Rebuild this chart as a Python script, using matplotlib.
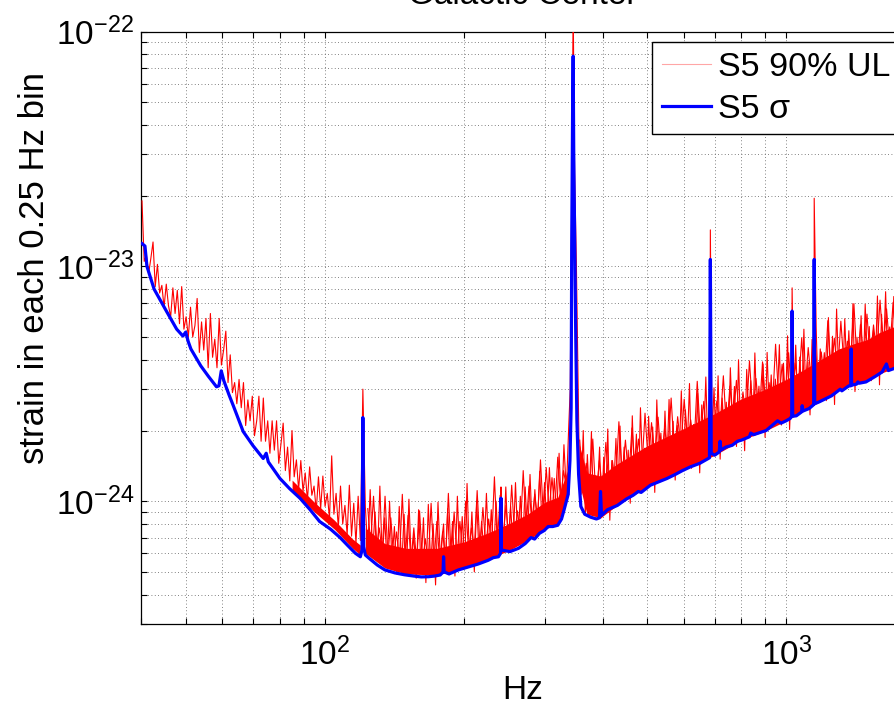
import numpy as np
import matplotlib
matplotlib.use("Agg")
import matplotlib.pyplot as plt
from matplotlib.ticker import FixedLocator, LogLocator, NullFormatter

plt.rcParams["font.family"] = ["Liberation Sans", "DejaVu Sans"]
plt.rcParams["mathtext.fontset"] = "custom"
plt.rcParams["mathtext.rm"] = "Liberation Sans"
plt.rcParams["mathtext.it"] = "Liberation Sans:italic"
plt.rcParams["mathtext.default"] = "regular"

UNIT = 1e-24  # all strain values below are in units of 1e-24

# S5 sigma (blue), frequency in Hz
sigma_freq = [40.2, 40.8, 41.2, 42.7, 44.0, 45.5, 47.8, 49.3, 50.0, 50.6,
              51.3, 53.9, 56.0, 58.3, 59.0, 59.7, 60.5, 62.0, 63.4, 66.6,
              70.0, 73.6, 74.7, 75.5, 80.0, 84.0, 88.4, 93.0, 97.5, 103,
              108, 112, 116.6, 119.5, 120.5, 121.0, 121.5, 122.5, 125, 130,
              135, 142, 149, 156, 162, 168, 173, 178, 180.5, 181.0,
              181.5, 186, 195, 205, 215, 226, 232, 238, 240.5, 241.0,
              241.5, 252, 263, 272, 280, 285, 292, 299, 305, 312,
              320, 326, 330, 334, 337, 340, 342, 343, 344.5, 345.5,
              346.5, 348, 350, 352, 355, 359, 366, 377, 388, 394,
              396, 398, 410, 431, 450, 466, 478, 485, 508, 530,
              552, 575, 596, 620, 650, 670, 682, 685, 688, 700,
              716, 719, 722, 740, 764, 784, 800, 832, 838, 850,
              905, 958, 975, 1000, 1020, 1028, 1030, 1033, 1052, 1080,
              1083, 1087, 1121, 1140, 1147, 1150, 1153, 1180, 1254, 1310,
              1320, 1367, 1380, 1383, 1386, 1420, 1430, 1440, 1489, 1560,
              1614, 1649, 1665, 1705, 1800]
sigma_val = [12.5, 12.2, 10.0, 8.0, 7.2, 6.4, 5.4, 5.05, 5.25, 4.8,
             4.45, 3.77, 3.4, 3.07, 3.1, 3.59, 3.25, 2.85, 2.55, 1.98,
             1.72, 1.52, 1.6, 1.47, 1.25, 1.13, 1.03, 0.92, 0.82, 0.76,
             0.70, 0.65, 0.60, 0.58, 0.62, 2.27, 0.64, 0.59, 0.57, 0.535,
             0.51, 0.495, 0.486, 0.48, 0.476, 0.477, 0.48, 0.485, 0.5, 0.58,
             0.5, 0.49, 0.51, 0.525, 0.54, 0.56, 0.575, 0.58, 0.6, 1.03,
             0.62, 0.61, 0.63, 0.66, 0.70, 0.69, 0.73, 0.75, 0.78, 0.78,
             0.79, 0.84, 0.915, 1.0, 1.07, 1.49, 2.5, 12.0, 45.0, 78.5,
             30.0, 14.0, 5.0, 2.2, 1.3, 0.95, 0.88, 0.855, 0.84, 0.85,
             1.1, 0.87, 0.92, 0.96, 1.02, 1.06, 1.1, 1.09, 1.17, 1.21,
             1.25, 1.30, 1.35, 1.40, 1.45, 1.5, 1.53, 10.7, 1.6, 1.57,
             1.62, 1.8, 1.65, 1.70, 1.73, 1.8, 1.82, 1.88, 1.95, 1.92,
             2.0, 2.2, 2.15, 2.2, 2.25, 2.3, 6.45, 2.3, 2.31, 2.4,
             2.55, 2.42, 2.48, 2.55, 2.58, 10.7, 2.6, 2.65, 2.81, 3.0,
             2.95, 3.1, 3.1, 4.45, 3.12, 3.15, 3.22, 3.18, 3.22, 3.4,
             3.55, 3.84, 3.6, 3.66, 3.85]

# S5 90% upper limit (red), read in bands of evenly spaced log-frequency bins
ul_band_a = (40.2, 119.5)
ul_vals_a = [19.0, 10.5, 11.2, 9.3, 10.8, 12.7, 8.2, 10.2, 7.7, 8.3,
             6.7, 8.4, 6.8, 6.1, 8.1, 6.3, 7.9, 5.7, 8.2, 5.4,
             6.1, 5.0, 6.7, 5.0, 5.6, 7.3, 4.3, 5.8, 4.4, 6.0,
             3.7, 6.3, 4.1, 4.9, 3.7, 6.0, 3.8, 4.4, 5.3, 3.2,
             4.2, 2.9, 3.2, 2.6, 3.3, 2.5, 3.2, 2.1, 2.7, 2.2,
             2.8, 1.9, 2.2, 2.8, 1.8, 2.75, 1.8, 2.2, 1.6, 2.2,
             1.65, 2.2, 1.45, 1.75, 2.15, 1.35, 1.7, 1.22, 2.0, 1.27,
             1.5, 1.12, 1.49, 1.1, 1.32, 1.01, 1.4, 1.06, 1.16, 0.91,
             1.27, 0.93, 1.28, 0.95, 1.08, 0.84, 1.56, 0.88, 1.08, 0.77,
             1.16, 0.8, 0.96, 0.72, 1.17, 0.71, 0.98, 0.66, 1.05, 0.68]
ul_band_b = (122.5, 338.0)
ul_vals_b = [0.95, 0.62, 1.12, 0.6, 0.9, 0.58, 1.16, 0.56, 0.85, 0.53,
             1.0, 0.55, 0.78, 0.49, 0.95, 0.52, 0.88, 0.5, 1.02, 0.54,
             0.72, 0.47, 0.92, 0.52, 0.85, 0.45, 0.97, 0.53, 0.8, 0.44,
             0.99, 0.55, 0.75, 0.5, 0.93, 0.53, 0.82, 0.48, 1.05, 0.55,
             0.86, 0.52, 1.19, 0.56, 0.9, 0.5, 1.0, 0.57, 0.82, 0.6,
             1.08, 0.58, 0.92, 0.6, 1.0, 0.6, 1.1, 0.63, 1.15, 0.62,
             0.95, 0.64, 1.2, 0.66, 1.05, 0.67, 1.15, 0.7, 1.3, 0.72,
             1.12, 0.76, 1.34, 0.78, 1.2, 0.8, 1.39, 0.82, 1.25, 0.85,
             1.6, 0.9, 1.74, 1.1, 2.1]
ul_band_b2 = (124.0, 334.0)
ul_vals_b2 = [0.93, 0.66, 1.05, 0.63, 0.77, 0.6, 1.05, 0.58, 0.85, 0.57,
              0.74, 0.56, 1.07, 0.56, 0.87, 0.55, 0.77, 0.55, 0.91, 0.55,
              0.69, 0.55, 0.98, 0.55, 0.82, 0.55, 0.74, 0.56, 1.08, 0.57,
              0.9, 0.58, 0.82, 0.6, 1.0, 0.61, 0.77, 0.62, 1.11, 0.63,
              0.94, 0.64, 0.84, 0.65, 1.27, 0.66, 1.06, 0.69, 0.96, 0.7,
              1.17, 0.71, 0.91, 0.73, 1.35, 0.77, 1.16, 0.81, 1.07, 0.84,
              1.5, 0.87, 1.39, 0.9, 1.26, 0.91, 1.54, 0.99, 1.35, 1.15]
ul_band_c = (356.0, 1800.0)
ul_vals_c = [1.55, 1.07, 2.0, 0.87, 1.58, 1.06, 1.98, 0.9, 1.28, 1.11,
             1.7, 0.85, 1.54, 1.01, 2.03, 0.83, 1.49, 1.16, 1.85, 1.03,
             2.09, 1.14, 1.7, 1.1, 1.65, 0.98, 2.31, 1.26, 1.93, 1.12,
             2.5, 1.42, 1.68, 1.12, 2.3, 1.32, 2.07, 1.09, 2.7, 1.5,
             1.95, 1.32, 2.42, 1.46, 2.71, 1.39, 2.19, 1.23, 2.1, 1.57,
             2.95, 1.41, 2.45, 1.77, 3.17, 1.38, 2.12, 1.62, 2.88, 1.32,
             2.57, 1.84, 3.38, 1.62, 2.45, 1.81, 3.04, 1.72, 3.42, 1.51,
             2.75, 1.94, 2.64, 1.73, 3.7, 2.18, 3.08, 1.71, 4.0, 2.0,
             2.67, 1.64, 3.64, 2.28, 3.26, 2.01, 4.28, 2.24, 3.09, 2.12,
             3.84, 1.87, 4.3, 2.4, 3.45, 2.13, 3.31, 2.69, 4.64, 2.11,
             3.87, 2.47, 5.06, 2.02, 3.39, 2.83, 4.62, 2.49, 4.11, 2.77,
             5.4, 2.64, 3.92, 2.33, 4.89, 3.01, 5.5, 2.69, 4.45, 3.41,
             4.29, 2.68, 6.05, 3.16, 5.04, 2.58, 6.58, 3.58, 4.4, 3.16,
             5.98, 3.53, 5.32, 3.34, 6.93, 2.93, 4.99, 3.74, 6.16, 3.32,
             6.9, 4.17, 5.54, 3.26, 5.33, 3.83, 7.48, 3.13, 6.25, 4.34,
             7.8, 3.89, 5.52, 4.34, 7.44, 4.09, 6.6, 3.58, 7.9, 4.56]
ul_band_c2 = (357.0, 1790.0)
ul_vals_c2 = [1.82, 1.15, 1.45, 1.12, 1.84, 1.02, 1.49, 1.11, 1.78, 1.11,
              1.49, 1.19, 2.18, 1.29, 1.82, 1.25, 2.05, 1.37, 1.84, 1.34,
              2.37, 1.44, 2.16, 1.55, 2.28, 1.46, 2.05, 1.61, 2.75, 1.59,
              2.29, 1.68, 2.72, 1.78, 2.22, 1.7, 3.24, 1.86, 2.66, 1.83,
              2.98, 1.94, 2.67, 2.08, 3.42, 1.98, 3.09, 2.18, 3.27, 2.12,
              2.92, 2.26, 3.96, 2.43, 3.33, 2.32, 3.92, 2.53, 3.2, 2.49,
              4.66, 2.63, 3.83, 2.83, 4.29, 2.69, 3.88, 2.98, 4.96, 2.93,
              4.51, 3.13, 4.83, 3.35, 4.32, 3.22, 5.87, 3.56, 4.94, 3.49,
              5.84, 3.7, 4.8, 3.97, 6.93, 3.73, 5.65, 4.07, 6.26, 3.98,
              5.63, 4.21, 7.18, 4.52, 6.59, 4.39, 7.03, 4.77, 6.22, 4.64]

# narrow lines in the UL curve
ul_line_freq = [121.0, 181.0, 241.0, 340.5, 343.0, 345.5, 348.0, 351.0, 685.0, 1030.0, 1150.0]
ul_line_val = [3.0, 0.8, 1.15, 3.0, 20.0, 130.0, 25.0, 10.5, 14.3, 8.1, 19.5]

# densely filled lower part of the UL noise
core_freq_a = [85, 95, 105, 115, 119.5]
core_low_a = [1.12, 0.9, 0.76, 0.63, 0.59]
core_high_a = [1.23, 0.99, 0.83, 0.69, 0.65]
core_freq_b = [122.5, 135, 150, 175, 200, 225, 250, 275, 300, 320, 335, 338]
core_low_b = [0.6, 0.52, 0.49, 0.485, 0.515, 0.565, 0.615, 0.68, 0.76, 0.8, 1.03, 1.07]
core_high_b = [0.77, 0.66, 0.63, 0.63, 0.67, 0.73, 0.8, 0.88, 0.99, 1.04, 1.33, 1.39]
core_freq_c = [356, 370, 396, 430, 500, 600, 700, 800, 900, 1000, 1100, 1200,
               1300, 1400, 1500, 1600, 1700, 1800]
core_low_c = [1.2, 0.88, 0.85, 0.96, 1.15, 1.36, 1.57, 1.82, 1.99, 2.2, 2.44, 2.7,
              2.97, 3.12, 3.25, 3.5, 3.66, 3.85]
core_high_c = [1.75, 1.32, 1.28, 1.44, 1.72, 2.04, 2.36, 2.73, 2.99, 3.3, 3.66, 4.05,
               4.45, 4.68, 4.88, 5.25, 5.5, 5.78]


def band_freqs(band, vals):
    return np.geomspace(band[0], band[1], len(vals))


def build_ul():
    # main UL trace: the three primary bands plus the narrow lines
    freqs, vals = [], []
    for band, v in [(ul_band_a, ul_vals_a), (ul_band_b, ul_vals_b), (ul_band_c, ul_vals_c)]:
        freqs.append(band_freqs(band, v))
        vals.append(np.array(v))
    freqs.append(np.array(ul_line_freq))
    vals.append(np.array(ul_line_val))
    f = np.concatenate(freqs)
    v = np.concatenate(vals)
    order = np.argsort(f)
    return f[order], v[order] * UNIT


def plot_limits(filename):
    fig = plt.figure(figsize=(8.95, 7.06), dpi=100)
    ax = fig.add_axes([141 / 895, 82 / 706, 763 / 895, 592.5 / 706])

    for cf, lo, hi in [(core_freq_a, core_low_a, core_high_a),
                       (core_freq_b, core_low_b, core_high_b),
                       (core_freq_c, core_low_c, core_high_c)]:
        ax.fill_between(cf, np.array(lo) * UNIT, np.array(hi) * UNIT,
                        color="red", lw=0, zorder=2.5)

    # extra bins between the main ones
    for band, v in [(ul_band_b2, ul_vals_b2), (ul_band_c2, ul_vals_c2)]:
        ax.plot(band_freqs(band, v), np.array(v) * UNIT, color="red", lw=0.8, zorder=3)

    ul_f, ul_v = build_ul()
    ax.plot(ul_f, ul_v, color="red", lw=0.8, label="S5 90% UL", zorder=3)
    ax.plot(sigma_freq, np.array(sigma_val) * UNIT, color="blue", lw=2.3,
            label="S5 \u03c3", zorder=4)

    ax.set_xscale("log")
    ax.set_yscale("log")
    ax.set_xlim(40, 1800)
    ax.set_ylim(3e-25, 1e-22)

    ax.xaxis.set_major_locator(FixedLocator([1e2, 1e3]))
    ax.xaxis.set_minor_locator(LogLocator(base=10, subs=np.arange(2, 10), numticks=20))
    ax.yaxis.set_major_locator(FixedLocator([1e-24, 1e-23, 1e-22]))
    ax.yaxis.set_minor_locator(LogLocator(base=10, subs=np.arange(2, 10), numticks=20))
    ax.xaxis.set_minor_formatter(NullFormatter())
    ax.yaxis.set_minor_formatter(NullFormatter())

    ax.tick_params(which="both", direction="in", top=True, right=True,
                   length=4, width=0.8, labelsize=24)
    ax.tick_params(axis="x", pad=10)
    ax.tick_params(axis="y", pad=5)
    for s in ax.spines.values():
        s.set_linewidth(0.9)

    ax.grid(True, which="both", linestyle=(0, (1, 3)), color="0.35", linewidth=0.6)
    ax.set_axisbelow(True)

    ax.set_xlabel("Hz", fontsize=24, labelpad=2)
    ax.set_ylabel("strain in each 0.25 Hz bin", fontsize=25)
    ax.yaxis.set_label_coords(-0.118, 0.601)
    ax.set_title("Galactic Center", fontsize=24, pad=20)

    leg = ax.legend(loc="upper right", bbox_to_anchor=(1 - 4 / 763, 1 - 10.5 / 592.5),
                    borderaxespad=0, fontsize=24.5, fancybox=False, framealpha=1,
                    edgecolor="black", handlelength=1.45, handletextpad=0.2,
                    labelspacing=0.33, borderpad=0.28)
    leg.get_frame().set_linewidth(1.0)
    leg.get_lines()[0].set_alpha(0.35)

    fig.savefig(filename, dpi=100)
    plt.close(fig)


def main():
    assert len(sigma_freq) == len(sigma_val)
    plot_limits("out.png")


if __name__ == "__main__":
    main()
